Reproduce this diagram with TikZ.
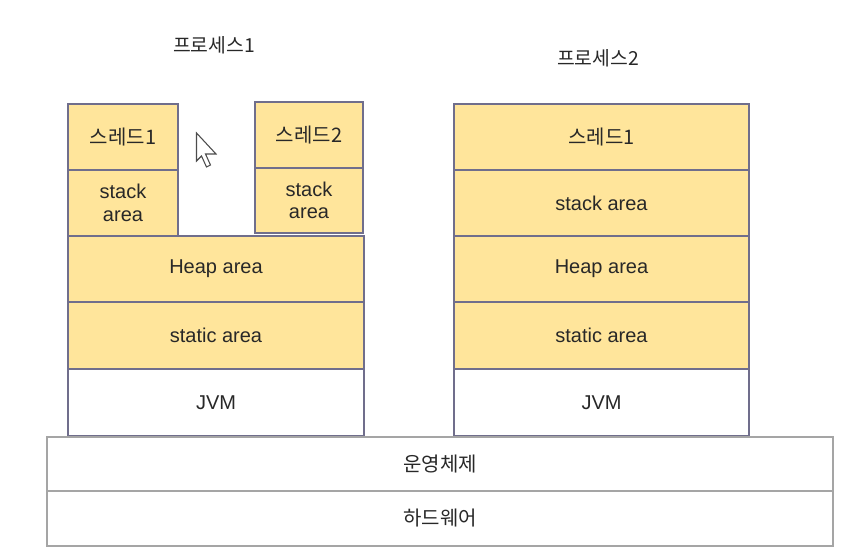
\documentclass[tikz,border=0pt]{standalone}
\usepackage{fontspec}
\setmainfont{Liberation Sans}
\newfontfamily\kr{Noto Sans CJK KR}
\definecolor{yfill}{RGB}{255,229,155}
\definecolor{yline}{RGB}{112,110,140}
\definecolor{gline}{RGB}{165,165,165}
\definecolor{txt}{RGB}{40,40,40}
\newcommand\mycell[7]{\node[#6, anchor=north west, minimum width={(#4-#2)*0.75pt}, minimum height={(#5-#3)*0.75pt}] (#1) at (#2,#3) {#7};}
\begin{document}
\begin{tikzpicture}[x=0.75pt,y=-0.75pt,
  base/.style={inner sep=0pt, outer sep=0pt, text=txt, font=\fontsize{15}{18}\selectfont, align=center},
  yb/.style={base, draw=yline, line width=0.8pt, fill=yfill},
  wb/.style={base, draw=yline, line width=0.8pt, fill=white},
  ob/.style={base, draw=gline, line width=1.5pt, fill=white},
  title/.style={text=txt, font=\kr\fontsize{14.5}{18}\selectfont}]
\useasboundingbox (0,0) rectangle (852,552);
\node[title] (t1) at (214,45) {프로세스1};
\node[title] (t2) at (598,58) {프로세스2};
% process 1
\mycell{p1th1}{68}{104}{178}{170}{yb}{\kr 스레드1}
\mycell{p1st1}{68}{170}{178}{236}{yb}{stack\\[-1pt]area}
\mycell{p1th2}{255}{102}{363}{168}{yb}{\kr 스레드2}
\mycell{p1st2}{255}{168}{363}{233}{yb}{stack\\[-1pt]area}
\mycell{p1heap}{68}{236}{364}{302}{yb}{Heap area}
\mycell{p1stat}{68}{302}{364}{369}{yb}{static area}
\mycell{p1jvm}{68}{369}{364}{436}{wb}{JVM}
% process 2
\mycell{p2th1}{454}{104}{749}{170}{yb}{\kr 스레드1}
\mycell{p2st}{454}{170}{749}{236}{yb}{stack area}
\mycell{p2heap}{454}{236}{749}{302}{yb}{Heap area}
\mycell{p2stat}{454}{302}{749}{369}{yb}{static area}
\mycell{p2jvm}{454}{369}{749}{436}{wb}{JVM}
% OS / hardware
\mycell{os}{47}{437}{833}{491}{ob}{\kr 운영체제}
\mycell{hw}{47}{491}{833}{546}{ob}{\kr 하드웨어}
% mouse cursor
\draw[draw=black!70, fill=white, line width=0.8pt, line join=miter]
  (196.5,133) -- (196.5,161) -- (201.5,156) -- (206.5,167) -- (210.5,165) -- (205.5,154) -- (216,154) -- cycle;
\end{tikzpicture}
\end{document}
